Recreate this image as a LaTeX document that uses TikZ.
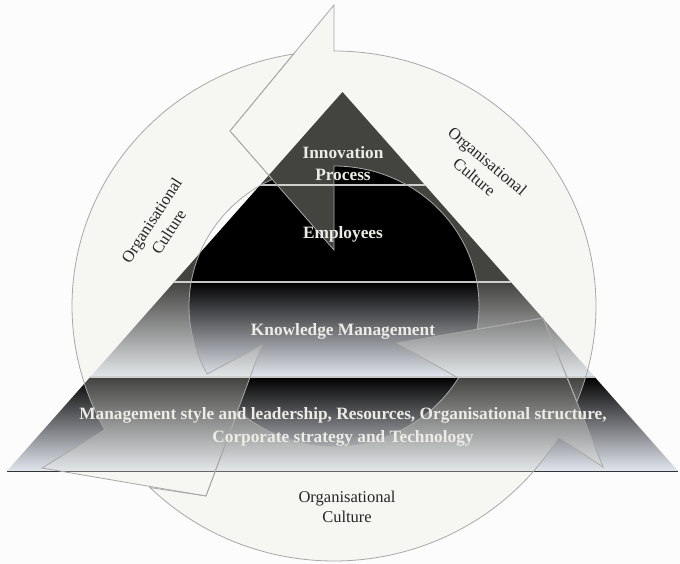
\documentclass[tikz,border=0pt]{standalone}
\usepackage{fontspec}
\setmainfont{Liberation Serif}
\usepackage{tikz}

\definecolor{paper}{RGB}{252,252,252}
\definecolor{ringfill}{RGB}{232,234,222}
\definecolor{ringline}{RGB}{168,168,168}
\definecolor{steel}{RGB}{226,230,238}
\definecolor{tiertext}{RGB}{236,236,230}

\begin{document}
\begin{tikzpicture}[x=1pt,y=1pt]
        \tikzset{band/.style={fill=ringfill, fill opacity=0.29, draw=ringline, line width=0.8pt},
        outerarc/.style={x radius=262, y radius=255},
        innerarc/.style={x radius=145, y radius=140},
        tier/.style={top color=black, bottom color=steel},
        divider/.style={draw=gray!45, line width=1.2pt},
        tierlabel/.style={font=\fontsize{17.3}{22}\selectfont\bfseries, text=tiertext, inner sep=0pt, anchor=base},
        culture/.style={font=\fontsize{16.5}{20.5}\selectfont, text=black!85, align=center, inner sep=0pt}}
        \fill[paper] (0,0) rectangle (680,-564);
        \useasboundingbox (0,0) rectangle (680,-564);
        \coordinate (hub) at (334,-306);
        % pyramid tiers
        \fill[black] (342.5,-92) -- (260.2,-185) -- (424.8,-185) -- cycle;
        \fill[black] (260.2,-185) -- (174.3,-282) -- (510.7,-282) -- (424.8,-185) -- cycle;
        \shade[tier] (174.3,-282) -- (90.3,-377) -- (594.7,-377) -- (510.7,-282) -- cycle;
        \shade[tier] (90.3,-377) -- (7,-471) -- (678,-471) -- (594.7,-377) -- cycle;
        \draw[divider] (260.2,-185) -- (424.8,-185);
        \draw[divider] (174.3,-282) -- (510.7,-282);
        \draw[divider] (90.3,-377) -- (594.7,-377);
        \draw[black!80, line width=1pt] (7,-471) -- (678,-471);
        % cycle of three arrows round the pyramid
        \draw[band] ([shift={(-22:262 and 255)}]hub) arc[start angle=-22, end angle=90, outerarc]
            -- (334,-5) -- (230,-131) -- (334,-250) -- (334,-166)
            arc[start angle=90, end angle=-9.6, innerarc] -- (543,-318) -- cycle;
        \draw[band] ([shift={(98.9:262 and 255)}]hub) arc[start angle=98.9, end angle=209, outerarc]
            -- (42,-468) -- (206,-496) -- (262,-345) -- ([shift={(209:145 and 140)}]hub)
            arc[start angle=209, end angle=115.2, innerarc] -- (230,-131) -- cycle;
        \draw[band] ([shift={(225.4:262 and 255)}]hub) arc[start angle=225.4, end angle=329, outerarc]
            -- (603,-467) -- (543,-318) -- (397,-343) -- ([shift={(329:145 and 140)}]hub)
            arc[start angle=329, end angle=228.6, innerarc] -- (206,-496) -- cycle;
        % labels
        \node[tierlabel] (innov) at (343,-159) {Innovation};
        \node[tierlabel] (proc) at (343,-181) {Process};
        \node[tierlabel] (staff) at (343,-239) {Employees};
        \node[tierlabel] (know) at (343,-335) {Knowledge Management};
        \node[tierlabel] (base1) at (343,-419) {Management style and leadership, Resources, Organisational structure,};
        \node[tierlabel] (base2) at (343,-442) {Corporate strategy and Technology};
        \node[culture, rotate=57] (cultleft) at (160,-226) {Organisational\\Culture};
        \node[culture, rotate=-40] (cultright) at (481,-169) {Organisational\\Culture};
        \node[culture] (cultlow) at (347,-507) {Organisational\\Culture};
\end{tikzpicture}
\end{document}
